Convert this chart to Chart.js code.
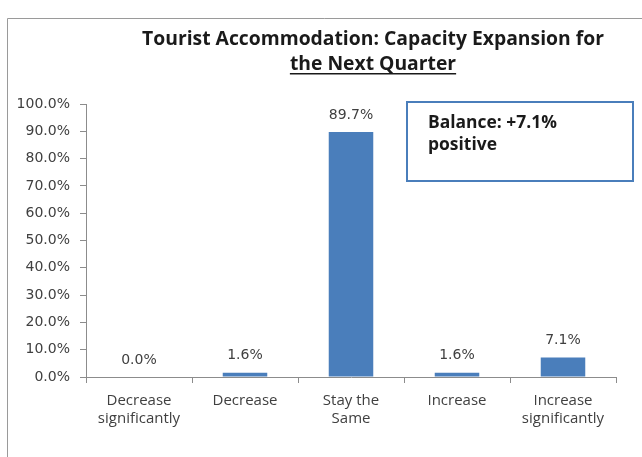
<!DOCTYPE html>
<html>
<head>
<meta charset="utf-8">
<script src="https://cdn.jsdelivr.net/npm/chart.js@4/dist/chart.umd.min.js"></script>
<style>
  html, body { margin: 0; padding: 0; background: #fff; }
  #wrap { position: relative; width: 642px; height: 457px; }
</style>
</head>
<body>
<div id="wrap"><canvas id="myChart" width="642" height="457"></canvas></div>
<script>
const categories = [
  ['Decrease', 'significantly'],
  'Decrease',
  ['Stay the', 'Same'],
  'Increase',
  ['Increase', 'significantly'],
];
const shares = [0.0, 1.6, 89.7, 1.6, 7.1];
const titleLines = ['Tourist Accommodation: Capacity Expansion for', 'the Next Quarter'];

// balance = share expecting an increase minus share expecting a decrease
const balance = (shares[3] + shares[4]) - (shares[0] + shares[1]);

const BLUE = '#4a7ebb';
const AXIS = '#8c8c8c';

const pct = (v) => v.toFixed(1) + '%';

// pick a font size so that text spans the given width
const fitFont = (ctx, text, weight, family, width) => {
  ctx.font = weight + ' 20px ' + family;
  const size = 20 * width / ctx.measureText(text).width;
  return weight + ' ' + size.toFixed(2) + 'px ' + family;
};

const chartDecor = {
  id: 'chartDecor',
  beforeDraw(chart) {
    const ctx = chart.ctx;
    ctx.save();
    // outer frame (left and top edges visible)
    ctx.strokeStyle = '#9a9a9a';
    ctx.lineWidth = 1;
    ctx.beginPath();
    ctx.moveTo(7.5, 457);
    ctx.lineTo(7.5, 18.5);
    ctx.lineTo(642, 18.5);
    ctx.stroke();
    ctx.restore();
  },
  afterDraw(chart) {
    const ctx = chart.ctx;
    const x = chart.scales.x;
    const y = chart.scales.y;
    ctx.save();

    // title, second line underlined
    ctx.fillStyle = '#1a1a1a';
    ctx.textAlign = 'center';
    ctx.textBaseline = 'middle';
    ctx.font = fitFont(ctx, titleLines[0], 'bold', '"Open Sans"', 462);
    ctx.fillText(titleLines[0], 373, 39);
    ctx.fillText(titleLines[1], 373, 64);
    const w2 = ctx.measureText(titleLines[1]).width;
    ctx.fillRect(373 - w2 / 2, 73, w2, 1.5);

    // value labels above bars
    ctx.font = '14px "DejaVu Sans"';
    ctx.fillStyle = '#404040';
    shares.forEach((v, i) => {
      ctx.fillText(pct(v), x.getPixelForValue(i), y.getPixelForValue(v) - 17);
    });

    // balance box
    ctx.strokeStyle = BLUE;
    ctx.lineWidth = 2;
    ctx.strokeRect(407, 102, 226, 79);
    const note = 'Balance: +' + pct(balance);
    ctx.fillStyle = '#1a1a1a';
    ctx.textAlign = 'left';
    ctx.font = fitFont(ctx, note, 'bold', '"Open Sans"', 129);
    ctx.fillText(note, 428, 123);
    ctx.fillText('positive', 428, 145);
    ctx.restore();
  },
};

new Chart(document.getElementById('myChart'), {
  type: 'bar',
  data: {
    labels: categories,
    datasets: [{
      data: shares,
      backgroundColor: BLUE,
      categoryPercentage: 1,
      barPercentage: 0.42,
    }],
  },
  options: {
    responsive: false,
    animation: false,
    events: [],
    layout: { padding: { top: 104, right: 26, left: 0, bottom: 0 } },
    plugins: {
      legend: { display: false },
      tooltip: { enabled: false },
    },
    scales: {
      y: {
        min: 0,
        max: 100,
        afterFit: (s) => { s.width = 86; },
        ticks: {
          stepSize: 10,
          padding: 10,
          color: '#404040',
          font: { family: 'DejaVu Sans', size: 14 },
          callback: (v) => pct(v),
        },
        grid: { drawOnChartArea: false, tickLength: 6, color: AXIS },
        border: { color: AXIS },
      },
      x: {
        afterFit: (s) => { s.height = 80; },
        ticks: {
          padding: 9,
          color: '#404040',
          font: { family: 'Open Sans', size: 15, lineHeight: '18px' },
          maxRotation: 0,
          autoSkip: false,
        },
        grid: { drawOnChartArea: false, tickLength: 6, color: AXIS, offset: true },
        border: { color: AXIS },
      },
    },
  },
  plugins: [chartDecor],
});
</script>
</body>
</html>
